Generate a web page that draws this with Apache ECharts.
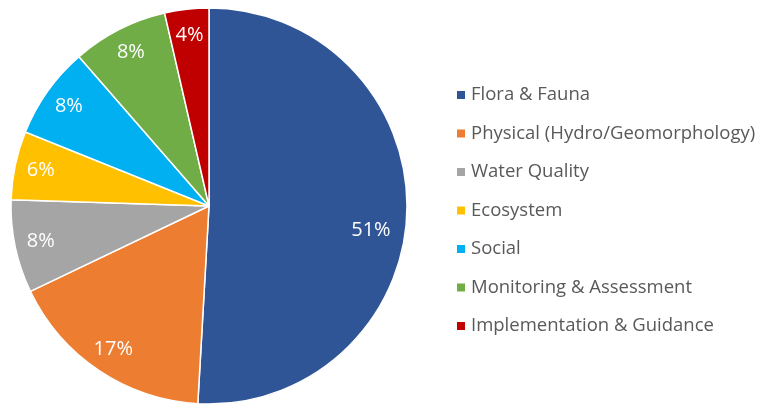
<!DOCTYPE html>
<html>
<head>
<meta charset="utf-8">
<script src="https://cdn.jsdelivr.net/npm/echarts@6/dist/echarts.min.js"></script>
<style>
  html, body { margin: 0; padding: 0; background: #fff; }
  #chart { width: 776px; height: 406px; }
</style>
</head>
<body>
<div id="chart"></div>
<script>
  // 分类与占比
  var categories = [
    'Flora & Fauna',
    'Physical (Hydro/Geomorphology)',
    'Water Quality',
    'Ecosystem',
    'Social',
    'Monitoring & Assessment',
    'Implementation & Guidance'
  ];
  var shares = [50.9, 17.0, 7.6, 5.6, 7.5, 7.8, 3.6];
  var colors = ['#2F5597', '#ED7D31', '#A5A5A5', '#FFC000', '#00B0F0', '#70AD47', '#C00000'];

  var font = 'Open Sans';
  var pieData = categories.map(function (name, i) {
    return { name: name, value: shares[i] };
  });
  var total = shares.reduce(function (a, b) { return a + b; }, 0);

  // 标签用的数据：最大扇区的标签稍微往下挪
  var labelData = pieData.map(function (d, i) {
    var item = { name: d.name, value: d.value };
    if (i === 0) item.label = { offset: [-10, 19] };
    return item;
  });

  var myChart = echarts.init(document.getElementById('chart'));
  var option = {
    animation: false,
    color: colors,
    legend: {
      orient: 'vertical',
      left: 450,
      top: 79,
      icon: 'rect',
      itemWidth: 10,
      itemHeight: 10,
      itemGap: 16.5,
      textStyle: { fontFamily: font, fontSize: 18.5, color: '#595959', lineHeight: 22 },
      data: categories
    },
    series: [
      {
        type: 'pie',
        center: [209, 206],
        radius: 198,
        startAngle: 90,
        clockwise: true,
        itemStyle: { borderColor: '#fff', borderWidth: 1.5 },
        label: { show: false },
        labelLine: { show: false },
        emphasis: { disabled: true },
        data: pieData
      },
      {
        // 透明环，只用于把百分比标签放到外圈位置
        type: 'pie',
        center: [209, 206],
        radius: [140, 198],
        startAngle: 90,
        clockwise: true,
        silent: true,
        itemStyle: { color: 'rgba(0,0,0,0)' },
        label: {
          show: true,
          position: 'inside',
          color: '#fff',
          fontFamily: font,
          fontSize: 20,
          formatter: function (p) {
            return Math.round(p.value / total * 100) + '%';
          }
        },
        labelLine: { show: false },
        emphasis: { disabled: true },
        data: labelData
      }
    ]
  };

  option && myChart.setOption(option);
</script>
</body>
</html>
